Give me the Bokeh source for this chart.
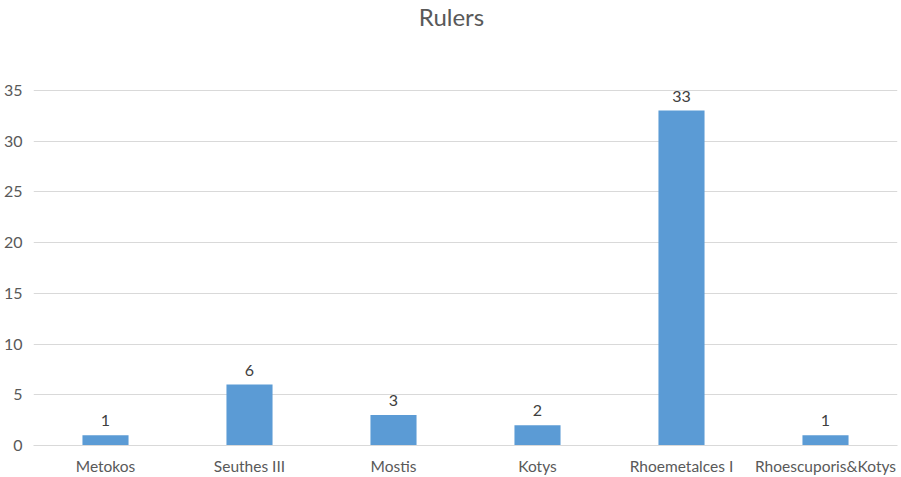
from bokeh.plotting import figure
from bokeh.models import ColumnDataSource, FactorRange, Range1d, FixedTicker, LabelSet, Label
from bokeh.core.properties import value
from bokeh.embed import file_html
from bokeh.resources import INLINE

rulers = ["Metokos", "Seuthes III", "Mostis", "Kotys", "Rhoemetalces I", "Rhoescuporis&Kotys"]
counts = [1, 6, 3, 2, 33, 1]
y_ticks = [0, 5, 10, 15, 20, 25, 30, 35]

FONT = "Lato"
BAR = "#5B9BD5"
TEXT = "#595959"
GRID = "#D9D9D9"

source = ColumnDataSource(data=dict(ruler=rulers, count=counts, label=[str(c) for c in counts]))

# the frame runs to the top edge; headroom above 35 holds the title
p = figure(
    width=901, height=477,
    x_range=FactorRange(*rulers, range_padding=0),
    y_range=Range1d(0, 43.85),
    output_backend="svg", toolbar_location=None,
    min_border_left=33, min_border_right=4, min_border_top=0, min_border_bottom=31,
    background_fill_color="white", border_fill_color="white",
)
p.outline_line_color = None

title = Label(x=418, y=429, x_units="screen", y_units="screen", text="Rulers",
              text_font=FONT, text_font_size="24px", text_color=TEXT,
              text_align="center", text_baseline="alphabetic")
p.add_layout(title)

p.vbar(x="ruler", top="count", width=0.32, source=source, color=BAR, line_color=None)

labels = LabelSet(x="ruler", y="count", text="label", source=source, text_align="center",
                  text_baseline="alphabetic", y_offset=9, text_font_size="16px", text_color="#404040",
                  text_font=value(FONT))
p.add_layout(labels)

p.xgrid.grid_line_color = None
p.ygrid.grid_line_color = GRID
p.ygrid.grid_line_width = 1

p.yaxis.ticker = FixedTicker(ticks=y_ticks)
p.yaxis.axis_line_color = None
p.yaxis.major_tick_line_color = None
p.yaxis.minor_tick_line_color = None
p.yaxis.major_label_standoff = 5
p.yaxis.major_label_text_font = FONT
p.yaxis.major_label_text_font_size = "16px"
p.yaxis.major_label_text_color = TEXT

p.xaxis.axis_line_color = GRID
p.xaxis.major_tick_line_color = None
p.xaxis.minor_tick_line_color = None
p.xaxis.major_label_standoff = 5
p.xaxis.major_label_text_font = FONT
p.xaxis.major_label_text_font_size = "15.5px"
p.xaxis.major_label_text_color = TEXT

open("out.html", "w").write(file_html(p, INLINE))
